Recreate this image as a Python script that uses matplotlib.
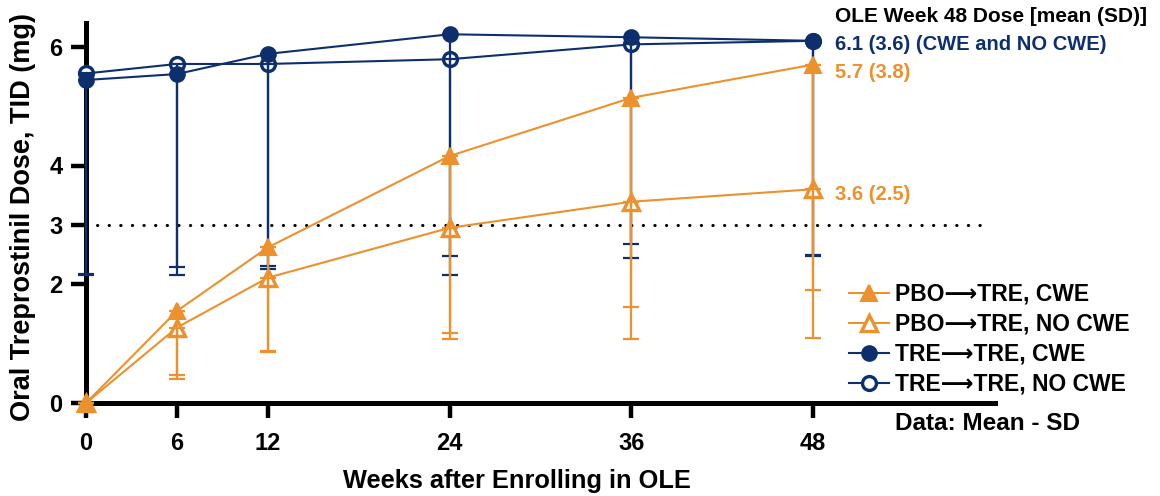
import numpy as np
import matplotlib
matplotlib.use("Agg")
import matplotlib.pyplot as plt

plt.rcParams['font.family'] = ['Liberation Sans', 'DejaVu Sans']
plt.rcParams['font.weight'] = 'bold'

# weeks after enrolling in the open-label extension
weeks = [0, 6, 12, 24, 36, 48]

# mean dose (mg TID) and SD for each group
pbo_cwe_mean = [0, 1.55, 2.62, 4.16, 5.14, 5.7]
pbo_cwe_sd = [0, 1.07, 1.76, 2.98, 3.53, 3.8]
pbo_nocwe_mean = [0, 1.27, 2.11, 2.95, 3.39, 3.6]
pbo_nocwe_sd = [0, 0.87, 1.24, 1.88, 2.31, 2.5]
tre_cwe_mean = [5.44, 5.54, 5.88, 6.21, 6.16, 6.1]
tre_cwe_sd = [3.29, 3.25, 3.58, 3.74, 3.49, 3.6]
tre_nocwe_mean = [5.55, 5.71, 5.71, 5.79, 6.04, 6.1]
tre_nocwe_sd = [3.38, 3.55, 3.45, 3.64, 3.60, 3.62]

group_labels = ['PBO\u27f6TRE, CWE', 'PBO\u27f6TRE, NO CWE',
                'TRE\u27f6TRE, CWE', 'TRE\u27f6TRE, NO CWE']

x_ticks = [0, 6, 12, 24, 36, 48]
y_ticks = [0, 2, 3, 4, 6]
target_dose = 3

ORANGE = '#EC912D'
BLUE = '#0E2F6E'

fig = plt.figure(figsize=(11.6, 4.96), dpi=100)
ax = fig.add_axes([86 / 1160, 93 / 496, 909 / 1160, 380 / 496])
ax.set_xlim(0, 60)
ax.set_ylim(0, 6.4)


def draw_group(mean, sd, color, marker, filled, ms, z):
    mean = np.array(mean)
    sd = np.array(sd)
    # only the lower half of the SD is shown
    ax.errorbar(weeks, mean, yerr=[sd, np.zeros_like(sd)], fmt='none',
                ecolor=color, elinewidth=1.6, capsize=5.8, capthick=1.6,
                zorder=z + 1, clip_on=False)
    line, = ax.plot(weeks, mean, color=color, lw=1.5, marker=marker, ms=ms,
                    mfc=color if filled else 'white', mec=color,
                    mew=1.5 if filled else 2.4, zorder=z, clip_on=False)
    return line


h_tre_nocwe = draw_group(tre_nocwe_mean, tre_nocwe_sd, BLUE, 'o', False, 10, 3)
h_tre_cwe = draw_group(tre_cwe_mean, tre_cwe_sd, BLUE, 'o', True, 10.5, 3)
h_pbo_nocwe = draw_group(pbo_nocwe_mean, pbo_nocwe_sd, ORANGE, '^', False, 11, 5)
h_pbo_cwe = draw_group(pbo_cwe_mean, pbo_cwe_sd, ORANGE, '^', True, 11, 5)

# 3 mg reference line
ax.plot([0.7, 59.3], [target_dose, target_dose], color='black', lw=2.2,
        linestyle=(0, (0.1, 3.7)), dash_capstyle='round', zorder=1)

for side in ['top', 'right']:
    ax.spines[side].set_visible(False)
for side in ['left', 'bottom']:
    ax.spines[side].set_linewidth(3.6)
    ax.spines[side].set_capstyle('projecting')

ax.set_xticks(x_ticks)
ax.set_yticks(y_ticks)
ax.tick_params(axis='both', length=11, width=3.2, labelsize=17)
ax.tick_params(axis='x', pad=10)
ax.tick_params(axis='y', pad=6)
for lab in ax.get_xticklabels() + ax.get_yticklabels():
    lab.set_fontweight('bold')

ax.set_ylabel('Oral Treprostinil Dose, TID (mg)', fontsize=19.5, fontweight='bold')
ax.yaxis.set_label_coords(-0.055, 0.49)
fig.text(517 / 1160, 1 - 481 / 496, 'Weeks after Enrolling in OLE', fontsize=18.3,
         fontweight='bold', ha='center', va='center')

# week 48 summary text
fig.text(835 / 1160, 1 - 17 / 496, 'OLE Week 48 Dose [mean (SD)]', fontsize=15,
         fontweight='bold', color='black', va='center')
fig.text(835 / 1160, 1 - 44 / 496, '6.1 (3.6) (CWE and NO CWE)', fontsize=14.5,
         fontweight='bold', color=BLUE, va='center')
fig.text(835 / 1160, 1 - 72 / 496, '5.7 (3.8)', fontsize=14.5,
         fontweight='bold', color=ORANGE, va='center')
fig.text(835 / 1160, 1 - 195 / 496, '3.6 (2.5)', fontsize=14.5,
         fontweight='bold', color=ORANGE, va='center')

leg = fig.legend([h_pbo_cwe, h_pbo_nocwe, h_tre_cwe, h_tre_nocwe], group_labels,
                 loc='upper left', bbox_to_anchor=(849 / 1160, 1 - 283 / 496),
                 frameon=False, fontsize=16.5, handlelength=1.75, handletextpad=0.26,
                 labelspacing=0.3, borderpad=0, borderaxespad=0)
for t in leg.get_texts():
    t.set_fontweight('bold')

fig.text(895 / 1160, 1 - 423 / 496, 'Data: Mean - SD', fontsize=17.5,
         fontweight='bold', va='center')

fig.savefig('out.png', dpi=100)
